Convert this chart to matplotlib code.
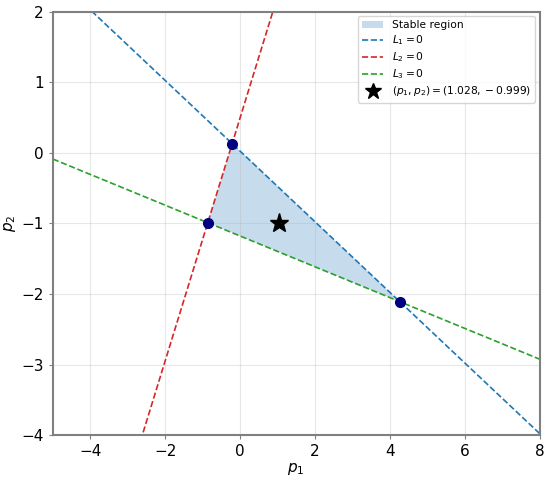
import numpy as np
import matplotlib
matplotlib.use("Agg")
import matplotlib.pyplot as plt

# Boundary lines p2 = slope * p1 + intercept
line_names = ["$L_1 = 0$", "$L_2 = 0$", "$L_3 = 0$"]
line_slopes = [-0.5, 1.72, -0.218]
line_intercepts = [0.025, 0.491, -1.178]
line_colors = ["tab:blue", "tab:red", "tab:green"]

# Triangle vertices of the stable region
vertex_p1 = [-0.21, -0.86, 4.27]
vertex_p2 = [0.13, -0.99, -2.11]

# Chosen point
point_p1 = 1.028
point_p2 = -0.999

x_min, x_max = -5, 8
y_min, y_max = -4, 2

fig, ax = plt.subplots(figsize=(5.5, 4.82), dpi=100)
fig.subplots_adjust(left=0.096, right=0.981, top=0.976, bottom=0.097)

ax.fill(vertex_p1, vertex_p2, color="tab:blue", alpha=0.25, lw=0, label="Stable region")

p1_grid = np.array([x_min, x_max])
for name, m, b, c in zip(line_names, line_slopes, line_intercepts, line_colors):
    ax.plot(p1_grid, m * p1_grid + b, linestyle="--", color=c, lw=1.2, label=name)

ax.plot(vertex_p1, vertex_p2, "o", color="navy", markersize=7, zorder=5)
ax.plot(point_p1, point_p2, "*", color="black", markersize=14, zorder=6,
        linestyle="none", label=f"$(p_1, p_2) = ({point_p1:.3f}, {point_p2:.3f})$")

ax.set_xlim(x_min, x_max)
ax.set_ylim(y_min, y_max)
ax.set_xlabel("$p_1$", fontsize=11, labelpad=1)
ax.set_ylabel("$p_2$", fontsize=11, labelpad=2)
ax.tick_params(labelsize=11, color="#808080", length=3)
ax.grid(True, alpha=0.3)
for s in ax.spines.values():
    s.set_color("#808080")
    s.set_linewidth(1.5)

ax.legend(loc="upper right", fontsize=7.7, markerscale=0.85, borderaxespad=0.4,
          labelspacing=0.3)

plt.savefig("out.png", dpi=100)
